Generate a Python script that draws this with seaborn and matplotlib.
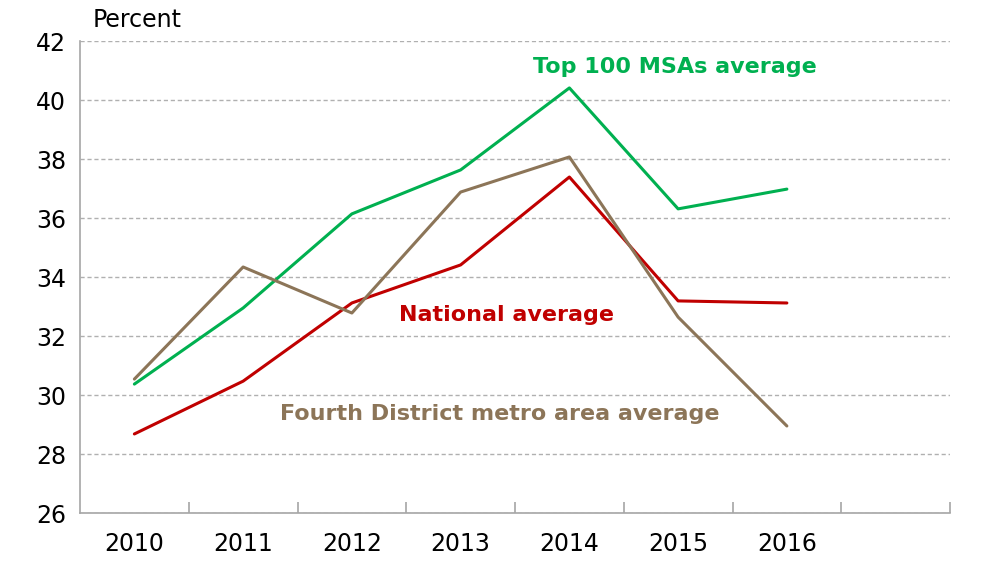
import matplotlib
matplotlib.use("Agg")
import matplotlib.pyplot as plt
import seaborn as sns
import pandas as pd
import numpy as np
from matplotlib.ticker import FixedLocator

years = ["2010", "2011", "2012", "2013", "2014", "2015", "2016"]
top100 = [30.37, 32.95, 36.14, 37.63, 40.41, 36.31, 36.98]
national = [28.68, 30.47, 33.12, 34.41, 37.39, 33.19, 33.12]
fourth = [30.54, 34.34, 32.78, 36.88, 38.07, 32.64, 28.95]
series_names = ["Top 100 MSAs average", "National average", "Fourth District metro area average"]
colors = ["#00B050", "#C00000", "#8C7558"]

rows = []
for name, vals in zip(series_names, [top100, national, fourth]):
    for i, (y, v) in enumerate(zip(years, vals)):
        rows.append({"pos": i, "year": y, "value": v, "series": name})
df = pd.DataFrame(rows)

sns.set_theme(style="white")
plt.rcParams['font.family'] = ['DejaVu Sans']

fig = plt.figure(figsize=(10, 5.65), dpi=100)
ax = fig.add_axes([0.08, 0.092, 0.87, 0.8354])

sns.lineplot(data=df, x="pos", y="value", hue="series", palette=colors,
             hue_order=series_names, linewidth=2.2, ax=ax, legend=False, sort=False)

ax.set_xlim(-0.5, 7.5)
ax.set_ylim(26, 42)
ax.set_yticks(np.arange(26, 43, 2))
ax.set_yticklabels([str(v) for v in range(26, 43, 2)], fontsize=17)
ax.set_xticks(range(len(years)))
ax.set_xticklabels(years, fontsize=17)
ax.xaxis.set_minor_locator(FixedLocator(np.arange(0.5, 7.6, 1.0)))
ax.tick_params(axis="x", which="major", bottom=True, length=0, pad=14, colors="black")
ax.tick_params(axis="x", which="minor", bottom=True, direction="in", length=8, color="#a6a6a6", width=1.2)
ax.tick_params(axis="y", length=0, pad=10, colors="black")
ax.set_xlabel("")
ax.set_ylabel("")

ax.grid(axis="y", linestyle=(0, (3, 2)), color="#b0b0b0", linewidth=1.0)
ax.grid(axis="x", visible=False)
for s in ["top", "right"]:
    ax.spines[s].set_visible(False)
for s in ["left", "bottom"]:
    ax.spines[s].set_color("#a6a6a6")
    ax.spines[s].set_linewidth(1.2)

fig.text(0.093, 0.965, "Percent", fontsize=17, color="black", ha="left", va="center")

ax.text(4.97, 41.12, "Top 100 MSAs average", color=colors[0], fontsize=16, fontweight="bold", ha="center", va="center")
ax.text(3.42, 32.71, "National average", color=colors[1], fontsize=16, fontweight="bold", ha="center", va="center")
ax.text(3.36, 29.36, "Fourth District metro area average", color=colors[2], fontsize=16, fontweight="bold", ha="center", va="center")

fig.savefig("out.png", dpi=100)
